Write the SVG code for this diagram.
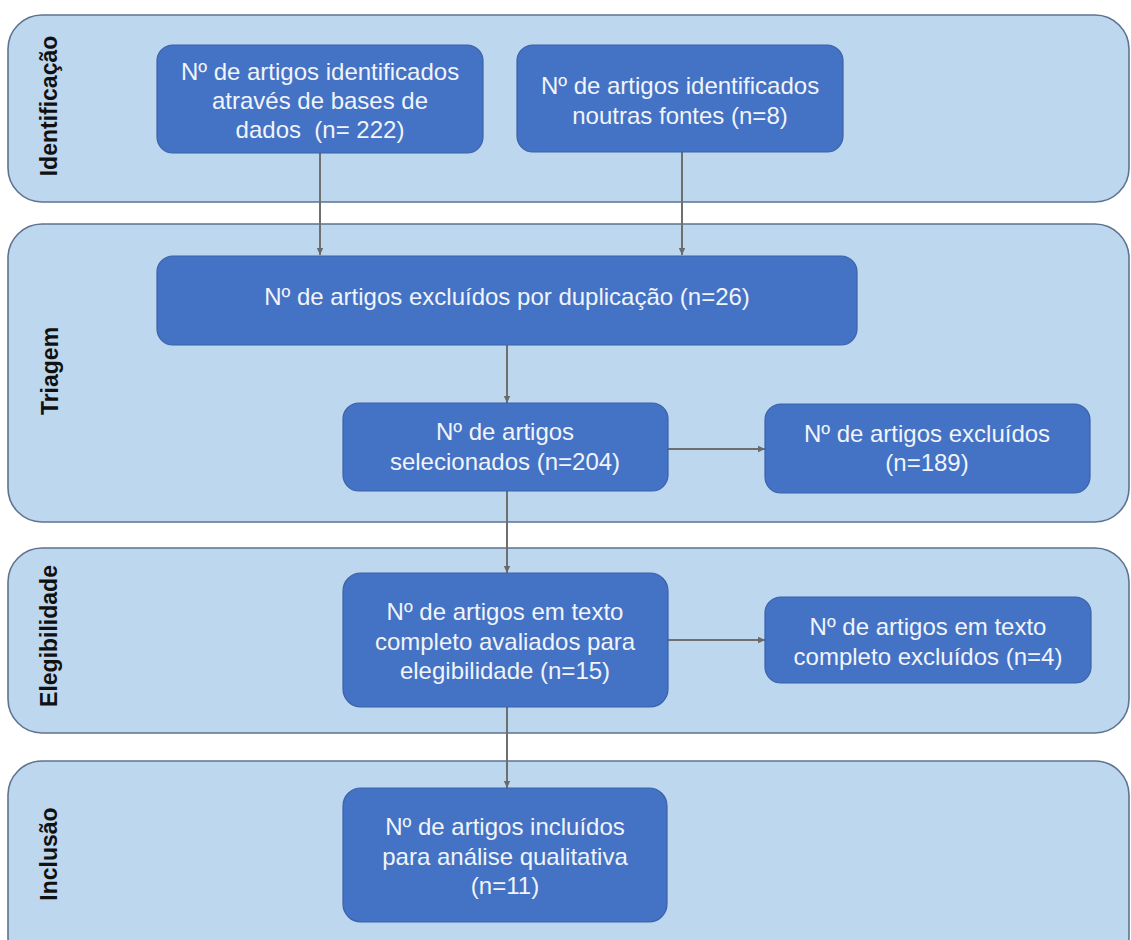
<svg xmlns="http://www.w3.org/2000/svg" width="1131" height="940" viewBox="0 0 1131 940">
<defs>
<marker id="arr" markerWidth="8" markerHeight="8" refX="7" refY="4" orient="auto" markerUnits="userSpaceOnUse">
<path d="M0,0.8 L7,4 L0,7.2 z" fill="#6a6a6a"/>
</marker>
<style>
.lane{fill:#bdd7ee;stroke:#5f7390;stroke-width:1.6}
.node{fill:#4472c4;stroke:#3a62aa;stroke-width:1.2}
.nt{font-family:"Liberation Sans",Arial,sans-serif;font-size:24px;fill:#f1f4fa;text-anchor:middle}
.lt{font-family:"Liberation Sans",Arial,sans-serif;font-size:23px;font-weight:bold;fill:#111;text-anchor:middle}
.con{stroke:#6f6f6f;stroke-width:2;fill:none;marker-end:url(#arr)}
</style>
</defs>
<rect width="1131" height="940" fill="#ffffff"/>
<g id="lanes">
<g id="lane-identificacao">
<rect class="lane" x="8" y="15" width="1121" height="187" rx="34" ry="34"/>
<text class="lt" transform="translate(57,106) rotate(-90)">Identificação</text>
</g>
<g id="lane-triagem">
<rect class="lane" x="8" y="224" width="1121" height="298" rx="34" ry="34"/>
<text class="lt" transform="translate(58,371) rotate(-90)">Triagem</text>
</g>
<g id="lane-elegibilidade">
<rect class="lane" x="8" y="548" width="1121" height="185" rx="34" ry="34"/>
<text class="lt" transform="translate(57,636) rotate(-90)">Elegibilidade</text>
</g>
<g id="lane-inclusao">
<rect class="lane" x="8" y="761" width="1121" height="210" rx="34" ry="34"/>
<text class="lt" transform="translate(57,854) rotate(-90)">Inclusão</text>
</g>
</g>
<g id="connectors">
<line class="con" x1="320" y1="153" x2="320" y2="255"/>
<line class="con" x1="682" y1="152" x2="682" y2="255"/>
<line class="con" x1="507" y1="345" x2="507" y2="403"/>
<line class="con" x1="668" y1="449" x2="765" y2="449"/>
<line class="con" x1="507" y1="491" x2="507" y2="573"/>
<line class="con" x1="668" y1="640" x2="765" y2="640"/>
<line class="con" x1="507" y1="707" x2="507" y2="788"/>
</g>
<g id="n1">
<rect class="node" x="157" y="45" width="326" height="108" rx="16" ry="16"/>
<text class="nt" x="320" y="80">Nº de artigos identificados</text>
<text class="nt" x="320" y="109">através de bases de</text>
<text class="nt" x="320" y="138">dados&#160; (n= 222)</text>
</g>
<g id="n2">
<rect class="node" x="517" y="45" width="326" height="107" rx="16" ry="16"/>
<text class="nt" x="680" y="94">Nº de artigos identificados</text>
<text class="nt" x="680" y="124">noutras fontes (n=8)</text>
</g>
<g id="n3">
<rect class="node" x="157" y="256" width="700" height="89" rx="16" ry="16"/>
<text class="nt" x="507" y="305">Nº de artigos excluídos por duplicação (n=26)</text>
</g>
<g id="n4">
<rect class="node" x="343" y="403" width="325" height="88" rx="16" ry="16"/>
<text class="nt" x="505" y="440">Nº de artigos</text>
<text class="nt" x="505" y="470">selecionados (n=204)</text>
</g>
<g id="n5">
<rect class="node" x="765" y="404" width="325" height="89" rx="16" ry="16"/>
<text class="nt" x="927" y="442">Nº de artigos excluídos</text>
<text class="nt" x="927" y="471">(n=189)</text>
</g>
<g id="n6">
<rect class="node" x="343" y="573" width="325" height="134" rx="18" ry="18"/>
<text class="nt" x="505" y="620">Nº de artigos em texto</text>
<text class="nt" x="505" y="650">completo avaliados para</text>
<text class="nt" x="505" y="679">elegibilidade (n=15)</text>
</g>
<g id="n7">
<rect class="node" x="765" y="597" width="326" height="86" rx="16" ry="16"/>
<text class="nt" x="928" y="635">Nº de artigos em texto</text>
<text class="nt" x="928" y="665">completo excluídos (n=4)</text>
</g>
<g id="n8">
<rect class="node" x="343" y="788" width="324" height="134" rx="18" ry="18"/>
<text class="nt" x="505" y="835">Nº de artigos incluídos</text>
<text class="nt" x="505" y="865">para análise qualitativa</text>
<text class="nt" x="505" y="894">(n=11)</text>
</g>
</svg>
